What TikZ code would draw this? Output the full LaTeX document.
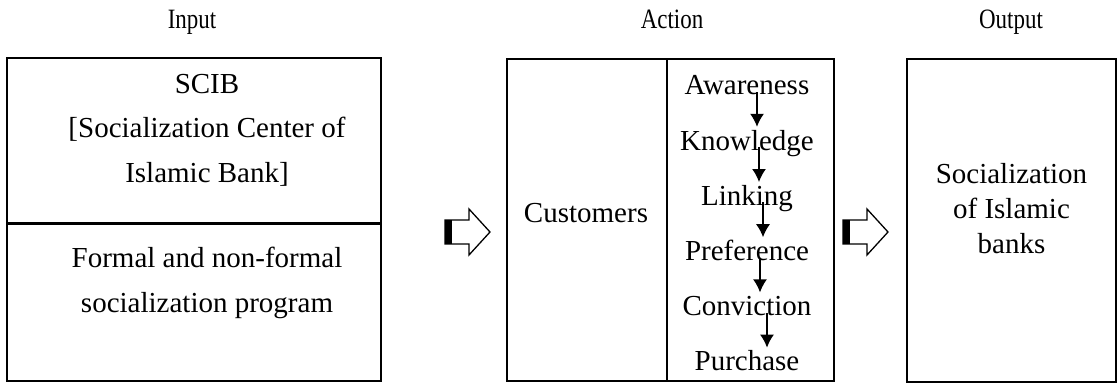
\documentclass[tikz,border=0pt]{standalone}
\usepackage{fontspec}
\setmainfont{Liberation Serif}
\usetikzlibrary{arrows.meta}
\begin{document}
\begin{tikzpicture}[x=1pt,y=-1pt,
  every node/.style={font=\fontsize{29}{35}\selectfont},
  box/.style={draw, line width=1.6pt, inner sep=0pt},
  txt/.style={inner sep=0pt, anchor=base},
  head/.style={inner sep=0pt, anchor=base, font=\fontsize{28}{32}\selectfont},
  word/.style={inner sep=0pt, anchor=south, text height=19pt, text depth=0pt},
  flow/.style={line width=1.5pt, -{Latex[length=13pt,width=14pt]}},
  blockarrow/.pic={
    \draw[line width=1.3pt, line join=miter] (0,-12) -- (24,-12) -- (24,-23) -- (45,0) -- (24,23) -- (24,12) -- (0,12) -- cycle;
    \fill (0,-12) rectangle (7,12);
  }]
\useasboundingbox (0,0) rectangle (1120,383);

% headers
\node[head] (hin) at (192,28) {\scalebox{0.82}[1]{Input}};
\node[head] (hact) at (672,28) {\scalebox{0.82}[1]{Action}};
\node[head] (hout) at (1011,28) {\scalebox{0.82}[1]{Output}};

% input column
\node[box, minimum width=374pt, minimum height=165pt] (scib) at (194,140.5) {};
\node[box, minimum width=374pt, minimum height=158pt] (prog) at (194,302) {};
\draw[line width=3pt] (scib.south west) -- (scib.south east);
\node[txt] (l1) at (207,93) {SCIB};
\node[txt] (l2) at (207,137.5) {[Socialization Center of};
\node[txt] (l3) at (207,182) {Islamic Bank]};
\node[txt] (l4) at (207,267) {Formal and non-formal};
\node[txt] (l5) at (207,312) {socialization program};

% action column
\node[box, minimum width=160pt, minimum height=322pt] (cust) at (587,220) {};
\node[box, minimum width=167pt, minimum height=322pt] (stages) at (750.5,220) {};
\node[txt] (custt) at (586,222) {Customers};
\node[word] (aw) at (747,95) {Awareness};
\node[word] (kn) at (747,150.2) {Knowledge};
\node[word] (li) at (747,205.4) {Linking};
\node[word] (pr) at (747,260.6) {Preference};
\node[word] (co) at (747,315.8) {Conviction};
\node[word] (pu) at (747,371) {Purchase};
\draw[flow] ([xshift=10pt,yshift=3pt]aw.south) -- ([xshift=10pt,yshift=4pt]kn.north);
\draw[flow] ([xshift=12pt,yshift=3pt]kn.south) -- ([xshift=12pt,yshift=4pt]li.north);
\draw[flow] ([xshift=16pt,yshift=3pt]li.south) -- ([xshift=16pt,yshift=4pt]pr.north);
\draw[flow] ([xshift=13pt,yshift=3pt]pr.south) -- ([xshift=13pt,yshift=4pt]co.north);
\draw[flow] ([xshift=20pt,yshift=3pt]co.south) -- ([xshift=20pt,yshift=4pt]pu.north);

% output column
\node[box, minimum width=209pt, minimum height=323pt] (outb) at (1011.5,220.5) {};
\node[txt] (o1) at (1011.5,183) {Socialization};
\node[txt] (o2) at (1011.5,218) {of Islamic};
\node[txt] (o3) at (1011.5,253) {banks};

% block arrows
\pic at (445,232) {blockarrow};
\pic at (843,232) {blockarrow};
\end{tikzpicture}
\end{document}
